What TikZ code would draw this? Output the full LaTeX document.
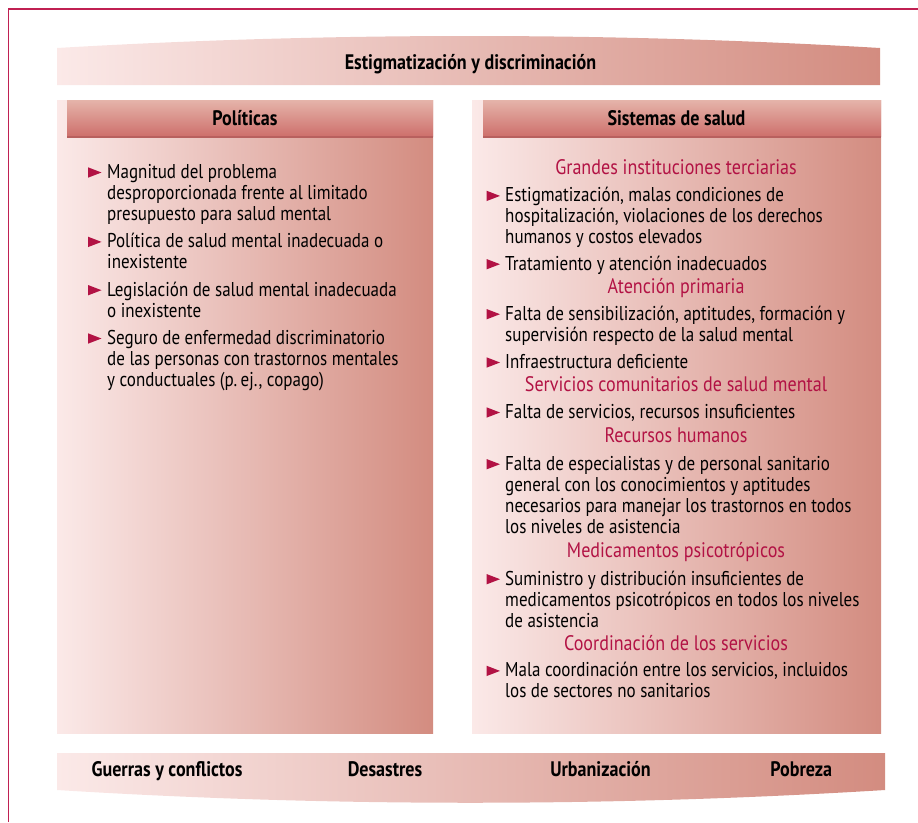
\documentclass[tikz,border=0pt]{standalone}
\usepackage{fontspec}
\setmainfont{PT Sans}[FakeStretch=0.85]
\newfontfamily\headfont{PT Sans}[FakeStretch=0.86]
\definecolor{crim}{RGB}{178,18,68}
\definecolor{framec}{RGB}{192,32,82}
\definecolor{gl}{RGB}{251,233,232}
\definecolor{gm}{RGB}{234,196,186}
\definecolor{gd}{RGB}{211,140,128}
\definecolor{ht}{RGB}{229,180,170}
\definecolor{hb}{RGB}{206,112,108}
\definecolor{hl}{RGB}{184,96,94}
\newcommand\mlines[1]{\begin{tabular}[t]{@{}l@{}}#1\end{tabular}}
\tikzset{
  grad/.style={left color=gl, middle color=gm, right color=gd},
  headband/.style={top color=ht, bottom color=hb},
  bodytext/.style={inner sep=0pt, anchor=base west, font=\fontsize{20}{21}\selectfont},
  subhead/.style={inner sep=0pt, anchor=base, text=crim, font=\headfont\fontsize{21}{21}\selectfont},
  headtext/.style={inner sep=0pt, anchor=base, font=\headfont\bfseries\fontsize{21}{24}\selectfont},
  bul/.pic={\fill[crim] (0,-5.2) -- (13.5,0) -- (0,5.2) -- cycle;}
}
\begin{document}
\begin{tikzpicture}[x=1pt,y=-1pt]
\useasboundingbox (0,0) rectangle (918,822);
% frame
\draw[framec, line width=1.6pt] (8.5,822) -- (8.5,9) -- (918,9);
% top banner
\shade[grad] (57,85) -- (57,48) .. controls (330,32) and (610,32) .. (880,48) -- (880,85) -- cycle;
% columns
\shade[grad] (57,100) rectangle (433,733);
\shade[grad] (472,100) rectangle (881,733);
% header bands
\shade[headband] (67,100) rectangle (433,136);
\fill[hl] (67,136) rectangle (433,138);
\shade[headband] (483,100) rectangle (881,136);
\fill[hl] (483,136) rectangle (881,138);
% bottom banner
\shade[grad] (57,753) -- (885,753) -- (885,790) .. controls (610,807) and (330,807) .. (57,790) -- cycle;

% texts
\node[headtext] (top) at (470.5,69) {Estigmatización y discriminación};
\node[headtext] (pol) at (245,125) {Políticas};
\node[headtext] (sis) at (676.5,125) {Sistemas de salud};

% left column
\pic at (88,172.5) {bul};
\node[bodytext] (l1) at (107,178.3) {\mlines{Magnitud del problema\\desproporcionada frente al limitado\\presupuesto para salud mental}};
\pic at (88,241.9) {bul};
\node[bodytext] (l2) at (107,247.7) {\mlines{Política de salud mental inadecuada o\\inexistente}};
\pic at (88,290.2) {bul};
\node[bodytext] (l3) at (107,296) {\mlines{Legislación de salud mental inadecuada\\o inexistente}};
\pic at (88,338.5) {bul};
\node[bodytext] (l4) at (107,344.3) {\mlines{Seguro de enfermedad discriminatorio\\de las personas con trastornos mentales\\y conductuales (p.\,ej., copago)}};

% right column
\node[subhead] (s1) at (676,174) {Grandes instituciones terciarias};
\pic at (486.5,195.9) {bul};
\node[bodytext] (r1) at (505,201.7) {\mlines{Estigmatización, malas condiciones de\\hospitalización, violaciones de los derechos\\humanos y costos elevados}};
\pic at (486.5,264.2) {bul};
\node[bodytext] (r2) at (505,270) {Tratamiento y atención inadecuados};
\node[subhead] (s2) at (676,293.3) {Atención primaria};
\pic at (486.5,314.2) {bul};
\node[bodytext] (r3) at (505,320) {\mlines{Falta de sensibilización, aptitudes, formación y\\supervisión respecto de la salud mental}};
\pic at (486.5,362.5) {bul};
\node[bodytext] (r4) at (505,368.3) {Infraestructura deficiente};
\node[subhead] (s3) at (676,391.7) {Servicios comunitarios de salud mental};
\pic at (486.5,412.5) {bul};
\node[bodytext] (r5) at (505,418.3) {Falta de servicios, recursos insuficientes};
\node[subhead] (s4) at (676,442.7) {Recursos humanos};
\pic at (486.5,464.2) {bul};
\node[bodytext] (r6) at (505,470) {\mlines{Falta de especialistas y de personal sanitario\\general con los conocimientos y aptitudes\\necesarios para manejar los trastornos en todos\\los niveles de asistencia}};
\node[subhead] (s5) at (676,557.7) {Medicamentos psicotrópicos};
\pic at (486.5,579.2) {bul};
\node[bodytext] (r7) at (505,585) {\mlines{Suministro y distribución insuficientes de\\medicamentos psicotrópicos en todos los niveles\\de asistencia}};
\node[subhead] (s6) at (676,650) {Coordinación de los servicios};
\pic at (486.5,670.9) {bul};
\node[bodytext] (r8) at (505,676.7) {\mlines{Mala coordinación entre los servicios, incluidos\\los de sectores no sanitarios}};

% bottom labels
\node[headtext] (b1) at (167,776) {Guerras y conflictos};
\node[headtext] (b2) at (385,776) {Desastres};
\node[headtext] (b3) at (600.5,776) {Urbanización};
\node[headtext] (b4) at (801.3,776) {Pobreza};
\end{tikzpicture}
\end{document}
